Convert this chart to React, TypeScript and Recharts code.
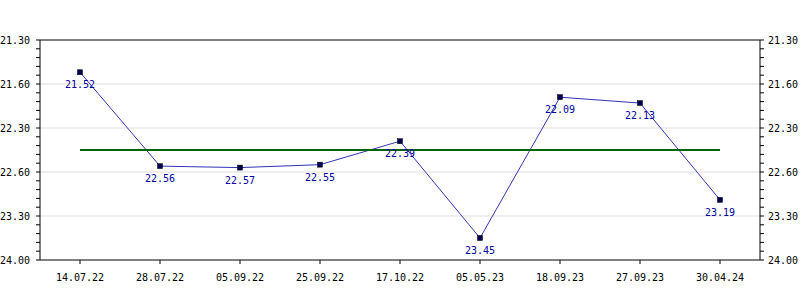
import { LineChart, Line, XAxis, YAxis, ReferenceLine, LabelList } from "recharts";

const dates = [
  "14.07.22",
  "28.07.22",
  "05.09.22",
  "25.09.22",
  "17.10.22",
  "05.05.23",
  "18.09.23",
  "27.09.23",
  "30.04.24",
];
// times as min.sec
const times = ["21.52", "22.56", "22.57", "22.55", "22.39", "23.45", "22.09", "22.13", "23.19"];
const average = "22.45";

// axis ticks (seconds) and their printed labels
const majorTicks = [1290, 1320, 1350, 1380, 1410, 1440];
const majorLabels = ["21.30", "21.60", "22.30", "22.60", "23.30", "24.00"];
const minorTicks = [
  1290, 1296, 1302, 1308, 1314, 1320, 1326, 1332, 1338, 1344, 1350, 1356, 1362,
  1368, 1374, 1380, 1386, 1392, 1398, 1404, 1410, 1416, 1422, 1428, 1434, 1440,
];

const toSec = (s: string) => {
  const [m, sec] = s.split(".");
  return Number(m) * 60 + Number(sec);
};

const data = dates.map((d, i) => ({
  date: d,
  value: toSec(times[i]),
  label: times[i],
  avg: toSec(average),
}));

const FONT = "'DejaVu Sans Mono', monospace";

function renderYTick(side: "left" | "right") {
  return (props: any) => {
    const { x, y, payload } = props;
    const idx = majorTicks.indexOf(Number(payload.value));
    if (idx < 0) return <g />;
    return (
      <text
        x={x}
        y={y}
        dy="0.36em"
        textAnchor={side === "left" ? "end" : "start"}
        fontSize={10}
        fontFamily={FONT}
        fill="#000"
      >
        {majorLabels[idx]}
      </text>
    );
  };
}

function SquareDot(props: any) {
  const { cx, cy } = props;
  if (cx == null || cy == null) return <g />;
  return <rect x={cx - 2.5} y={cy - 2.5} width={5} height={5} fill="#000050" stroke="#000" strokeWidth={0.5} />;
}

function PointLabel(props: any) {
  const { x, y, value } = props;
  return (
    <text x={x} y={y + 16} textAnchor="middle" fontSize={10} fontFamily={FONT} fill="#0000a0">
      {value}
    </text>
  );
}

export default function App() {
  return (
    <div style={{ position: "absolute", left: 0, top: 0, background: "#fff" }}>
      <LineChart width={800} height={300} data={data} margin={{ top: 40, right: 0, bottom: 0, left: 0 }}>
        <XAxis
          dataKey="date"
          padding={{ left: 40, right: 40 }}
          height={40}
          interval={0}
          tickSize={4}
          tickMargin={10}
          stroke="#000"
          tick={{ fontSize: 10, fontFamily: FONT, fill: "#000" }}
        />
        <YAxis
          yAxisId="left"
          width={40}
          reversed
          domain={[1290, 1440]}
          ticks={minorTicks}
          interval={0}
          tickSize={4}
          tickMargin={6}
          stroke="#000"
          tick={renderYTick("left")}
        />
        <YAxis
          yAxisId="right"
          orientation="right"
          width={40}
          reversed
          domain={[1290, 1440]}
          ticks={minorTicks}
          interval={0}
          tickSize={4}
          tickMargin={4}
          stroke="#000"
          tick={renderYTick("right")}
        />
        {majorTicks.slice(1, -1).map((t) => (
          <ReferenceLine key={t} yAxisId="left" y={t} stroke="#dddddd" />
        ))}
        <ReferenceLine yAxisId="left" y={1290} stroke="#000" />
        {/* keeps the right axis labelled */}
        <Line
          yAxisId="right"
          dataKey="avg"
          stroke="none"
          dot={false}
          legendType="none"
          isAnimationActive={false}
        />
        <Line
          yAxisId="left"
          dataKey="value"
          stroke="#3535b5"
          strokeWidth={1}
          dot={<SquareDot />}
          isAnimationActive={false}
        >
          <LabelList dataKey="label" content={<PointLabel />} />
        </Line>
        <Line
          yAxisId="left"
          dataKey="avg"
          stroke="#006400"
          strokeWidth={2}
          dot={false}
          isAnimationActive={false}
        />
      </LineChart>
    </div>
  );
}
